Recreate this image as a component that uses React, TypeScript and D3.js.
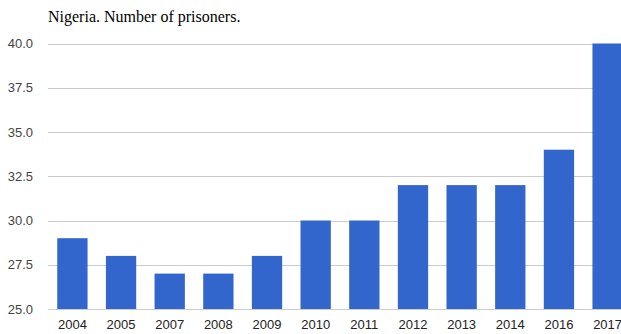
import React from "react";
import * as d3 from "d3";

const title = "Nigeria. Number of prisoners.";
const years = ["2004", "2005", "2007", "2008", "2009", "2010", "2011", "2012", "2013", "2014", "2016", "2017"];
const prisoners = [29, 28, 27, 27, 28, 30, 30, 32, 32, 32, 34, 40];
const yTicks = [25, 27.5, 30, 32.5, 35, 37.5, 40];

const W = 621;
const H = 334;
const left = 48;
const right = 632;
const top = 43.5;
const bottom = 309;

export default function App() {
  const x = d3.scaleBand<string>().domain(years).range([left, right]).paddingInner(0.377).paddingOuter(0.19);
  const y = d3.scaleLinear().domain([25, 40]).range([bottom, top]);
  const fmt = d3.format(".1f");
  return (
    <svg width={W} height={H} style={{ position: "absolute", left: 0, top: 0, background: "#fff" }}>
      <text x={48} y={22} fontFamily="'Liberation Serif', 'Times New Roman', serif" fontSize={16} fill="#000">
        {title}
      </text>
      {yTicks.map((t) => (
        <g key={t}>
          <line x1={left} x2={W} y1={Math.round(y(t)) + 0.5} y2={Math.round(y(t)) + 0.5} stroke="#cccccc" strokeWidth={1} />
          <text x={33} y={y(t)} dy="0.36em" textAnchor="end" fontFamily="'Liberation Sans', Arial, sans-serif" fontSize={13} fill="#444">
            {fmt(t)}
          </text>
        </g>
      ))}
      {years.map((yr, i) => (
        <g key={yr}>
          <rect x={x(yr)} y={y(prisoners[i])} width={x.bandwidth()} height={bottom - y(prisoners[i])} fill="#3366cc" />
          <text x={(x(yr) as number) + x.bandwidth() / 2} y={328.5} textAnchor="middle" fontFamily="'Liberation Sans', Arial, sans-serif" fontSize={13} fill="#222">
            {yr}
          </text>
        </g>
      ))}
    </svg>
  );
}
